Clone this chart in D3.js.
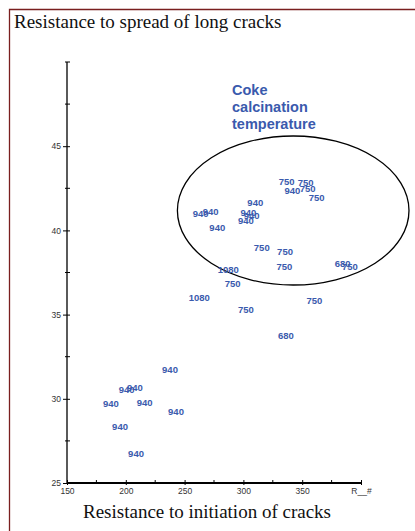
<!DOCTYPE html>
<html><head><meta charset="utf-8">
<script src="https://cdn.jsdelivr.net/npm/d3@7"></script>
<style>
html,body{margin:0;padding:0;background:#fff;}
svg{display:block;}
</style></head>
<body>
<script>
// Data
const temps = ["750","750","940","750","750","940","940","940","940","940","940","940","750","750","750","680","750","1080","750","1080","750","750","680","940","940","940","940","940","940","940","940"];
const initX = [336.8,353.0,341.6,354.7,362.3,310.1,263.7,272.2,304.2,307.0,302.2,277.8,315.6,335.4,334.8,384.4,390.6,287.2,290.9,262.5,302.2,360.3,336.2,237.6,200.8,207.8,187.4,216.1,242.7,195.1,208.7];
const spreadY = [42.89,42.83,42.36,42.46,41.94,41.64,41.01,41.11,41.07,40.87,40.58,40.16,38.97,38.76,37.84,38.02,37.84,37.65,36.86,36.0,35.29,35.82,33.75,31.75,30.56,30.68,29.73,29.77,29.23,28.34,26.74];
const xTickValues = [150,200,250,300,350,400];
const xTickLabels = ["150","200","250","300","350","R__#"];
const yTickValues = [25,30,35,40,45];
const titleText = "Resistance to spread of long cracks";
const xTitle = "Resistance to initiation of cracks";
const groupTitle = ["Coke","calcination","temperature"];

const W = 415, H = 531;
const svg = d3.select("body").append("svg").attr("width", W).attr("height", H);

const x = d3.scaleLinear().domain([150,400]).range([67,361]);
const y = d3.scaleLinear().domain([25,50]).range([483,62]);

// frame
svg.append("path").attr("d", `M9.5,${H} L9.5,9.5 L${W},9.5`).attr("fill","none").attr("stroke","#7a1f1f").attr("stroke-width",1.3);

svg.append("text").attr("x",14).attr("y",28).attr("font-family","Liberation Serif").attr("font-size",19).attr("fill","#111").text(titleText);

// y axis
const yAxis = d3.axisLeft(y).tickValues(yTickValues).tickSize(4).tickFormat(d3.format("d"));
const gy = svg.append("g").attr("transform",`translate(${x(150)},0)`).call(yAxis);
gy.select(".domain").attr("stroke","#000").attr("stroke-width",1.3).attr("d",`M0,${y(25)}V${y(50)}`);
gy.selectAll(".tick line").attr("x1",3).attr("x2",-4).attr("stroke","#000");
gy.selectAll(".tick text").attr("font-family","Liberation Sans").attr("font-size",8.5).attr("fill","#333").attr("x",-6);
// y minor ticks
const yMinor = d3.range(27.5,50,5);
svg.append("g").selectAll("line").data(yMinor.concat([50])).join("line")
  .attr("x1",x(150)-2).attr("x2",x(150)+3).attr("y1",d=>y(d)).attr("y2",d=>y(d)).attr("stroke","#000");

// x axis
const xAxis = d3.axisBottom(x).tickValues(xTickValues).tickSize(4).tickFormat((d,i)=>xTickLabels[i]);
const gx = svg.append("g").attr("transform",`translate(0,${y(25)})`).call(xAxis);
gx.select(".domain").attr("stroke","#000").attr("stroke-width",2).attr("d",`M${x(150)},0H${x(400)}`);
gx.selectAll(".tick line").attr("y1",-3).attr("y2",2).attr("stroke","#000");
gx.selectAll(".tick text").attr("font-family","Liberation Sans").attr("font-size",8.5).attr("fill","#333").attr("y",5);
const xMinor = d3.range(175,400,50);
svg.append("g").selectAll("line").data(xMinor).join("line")
  .attr("x1",d=>x(d)).attr("x2",d=>x(d)).attr("y1",y(25)-3).attr("y2",y(25)+1).attr("stroke","#000");

svg.append("text").attr("x",207).attr("y",518).attr("text-anchor","middle").attr("font-family","Liberation Serif").attr("font-size",19).attr("fill","#111").text(xTitle);

// ellipse
svg.append("ellipse").attr("cx",293.2).attr("cy",210.5).attr("rx",115.8).attr("ry",74.5)
  .attr("fill","none").attr("stroke","#000").attr("stroke-width",1.3);

// group title
svg.append("g").selectAll("text").data(groupTitle).join("text")
  .attr("x",232).attr("y",(d,i)=>95+i*17).attr("font-family","Liberation Sans").attr("font-weight","bold")
  .attr("font-size",14.5).attr("fill","#3a5aad").text(d=>d);

// points
svg.append("g").selectAll("text").data(temps).join("text")
  .attr("x",(d,i)=>x(initX[i])).attr("y",(d,i)=>y(spreadY[i]))
  .attr("text-anchor","middle").attr("dy","0.35em")
  .attr("font-family","Liberation Sans").attr("font-weight","bold").attr("font-size",9.5)
  .attr("fill","#3a5aad").text(d=>d);
</script>
</body></html>
